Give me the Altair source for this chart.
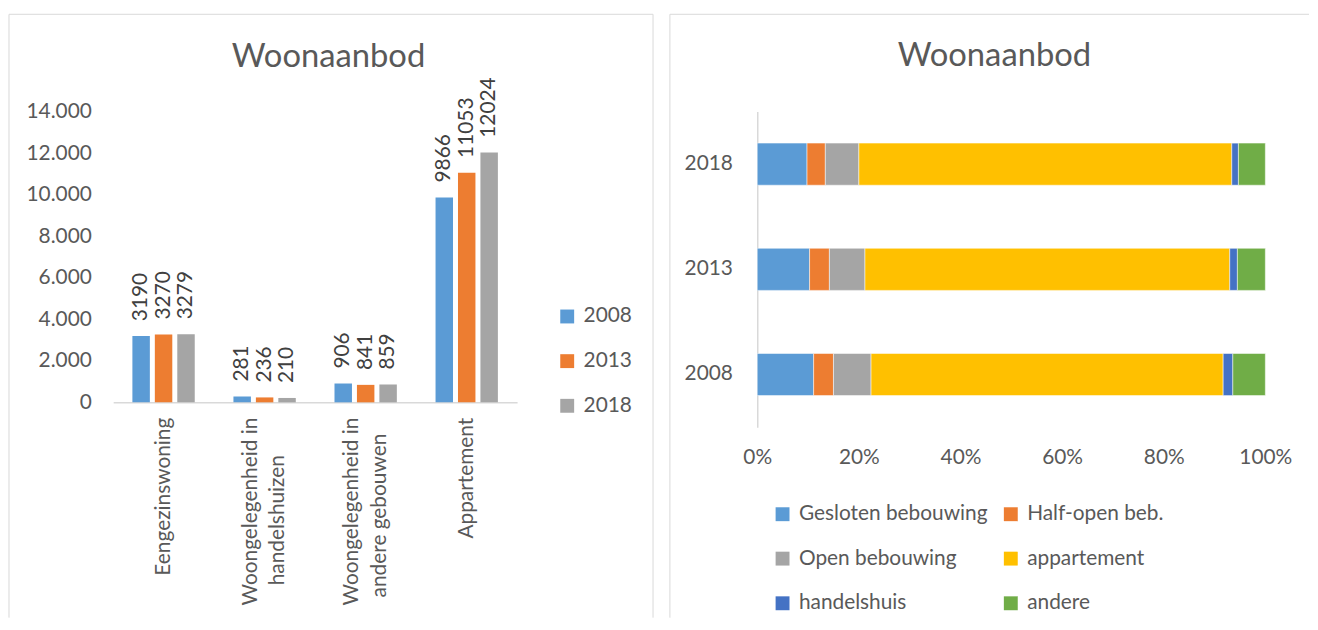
import altair as alt
import pandas as pd

# ---------------- data ----------------
categories = [
    "Eengezinswoning",
    "Woongelegenheid in handelshuizen",
    "Woongelegenheid in andere gebouwen",
    "Appartement",
]
years = ["2008", "2013", "2018"]
values_2008 = [3190, 281, 906, 9866]
values_2013 = [3270, 236, 841, 11053]
values_2018 = [3279, 210, 859, 12024]

types = ["Gesloten bebouwing", "Half-open beb.", "Open bebouwing",
         "appartement", "handelshuis", "andere"]
share_2008 = [11.1, 3.9, 7.4, 69.3, 1.9, 6.4]
share_2013 = [10.3, 3.9, 7.0, 71.8, 1.5, 5.5]
share_2018 = [9.8, 3.6, 6.6, 73.4, 1.3, 5.3]

year_colors = ["#5B9BD5", "#ED7D31", "#A5A5A5"]
type_colors = ["#5B9BD5", "#ED7D31", "#A5A5A5", "#FFC000", "#4472C4", "#70AD47"]

title_text = "Woonaanbod"

# ---------------- tables ----------------
rows_l = []
for yr, vals in zip(years, [values_2008, values_2013, values_2018]):
    for c, v in zip(categories, vals):
        rows_l.append({"category": c, "year": yr, "value": v})
df_left = pd.DataFrame(rows_l)

rows_r = []
for yr, vals in zip(years, [share_2008, share_2013, share_2018]):
    for i, (t, v) in enumerate(zip(types, vals)):
        rows_r.append({"year": yr, "type": t, "share": v, "idx": i})
df_right = pd.DataFrame(rows_r)

one = pd.DataFrame({"k": [0]})

FONT = "Lato"
LABEL = "#595959"
LINE = "#D9D9D9"
NB = "\u00a0"   # non-breaking space (padding)
ZW = "\u200b"   # zero-width space (keeps padding from being trimmed)
BLANK = ZW + NB + ZW


def vline(x, y1, y2):
    return alt.Chart(one).mark_rule(color=LINE, strokeWidth=1).encode(
        x=alt.value(x), y=alt.value(y1), y2=alt.value(y2))


def hline(x1, x2, y):
    return alt.Chart(one).mark_rule(color=LINE, strokeWidth=1).encode(
        x=alt.value(x1), x2=alt.value(x2), y=alt.value(y))


def title_mark(x, y):
    return alt.Chart(one).mark_text(
        text=title_text, font=FONT, fontSize=33, color=LABEL,
        align="center", baseline="middle").encode(x=alt.value(x), y=alt.value(y))


# multi-line category labels: wrapped lines centred like the original
label_expr = (
    "datum.label == 'Woongelegenheid in handelshuizen' ? "
    f"['Woongelegenheid in', '{BLANK}', 'handelshuizen{NB * 7}{ZW}'] : "
    "datum.label == 'Woongelegenheid in andere gebouwen' ? "
    f"['Woongelegenheid in', '{BLANK}', 'andere gebouwen{NB * 3}{ZW}'] : "
    f"['{BLANK}', datum.label]"
)

# ---------------- left chart ----------------
base_l = alt.Chart(df_left).encode(
    x=alt.X("category:N", sort=categories, title=None,
            scale=alt.Scale(paddingInner=0.383, paddingOuter=0.19),
            axis=alt.Axis(labelAngle=270, labelPadding=15, labelLineHeight=14,
                          labelOffset=-14, labelLimit=400, labelOverlap=False,
                          labelExpr=label_expr,
                          domainColor=LINE, domainWidth=1.5, ticks=False,
                          tickSize=0, grid=False)),
    xOffset=alt.XOffset("year:N", sort=years,
                        scale=alt.Scale(paddingInner=0.222, paddingOuter=0)),
    y=alt.Y("value:Q", title=None, scale=alt.Scale(domain=[0, 14000]),
            axis=alt.Axis(values=list(range(0, 14001, 2000)),
                          labelExpr="replace(format(datum.value, ','), ',', '.')",
                          domain=False, ticks=False, tickSize=0, grid=False,
                          labelPadding=22)),
)

bars_l = base_l.mark_bar().encode(
    color=alt.Color("year:N", sort=years,
                    scale=alt.Scale(domain=years, range=year_colors),
                    legend=alt.Legend(title=None, orient="none", legendX=447,
                                      legendY=196, symbolType="square",
                                      symbolSize=196, symbolStrokeWidth=0,
                                      symbolOpacity=1, labelOffset=6,
                                      rowPadding=23, padding=0)))

labels_l = base_l.mark_text(angle=270, align="left", baseline="middle", dx=15,
                            font=FONT, fontSize=21, color="#404040").encode(
    text=alt.Text("value:Q", format="d"))

left = alt.layer(
    bars_l, labels_l,
    title_mark(217, -55),
    vline(-105, -98, 510), vline(544, -98, 510), hline(-105, 544, -98),
).properties(width=407, height=293)

# ---------------- right chart ----------------
bars_r = alt.Chart(df_right).mark_bar(stroke="white", strokeWidth=0.5).encode(
    y=alt.Y("year:N", sort=["2018", "2013", "2008"], title=None,
            scale=alt.Scale(paddingInner=0.6, paddingOuter=0.3),
            axis=alt.Axis(domainColor=LINE, domainWidth=1.5, ticks=False,
                          tickSize=0, labelPadding=25, grid=False)),
    x=alt.X("share:Q", stack="normalize", title=None,
            scale=alt.Scale(domain=[0, 1]),
            axis=alt.Axis(format=".0%", values=[0, 0.2, 0.4, 0.6, 0.8, 1.0],
                          domain=False, ticks=False, tickSize=0, grid=False,
                          labelFlush=False, labelPadding=20)),
    color=alt.Color("type:N", sort=types,
                    scale=alt.Scale(domain=types, range=type_colors),
                    legend=alt.Legend(title=None, orient="none", legendX=15,
                                      legendY=395, columns=2,
                                      direction="horizontal",
                                      symbolType="square", symbolSize=196,
                                      symbolStrokeWidth=0, symbolOpacity=1,
                                      labelOffset=6, rowPadding=23,
                                      columnPadding=12, labelLimit=400,
                                      padding=0)),
    order=alt.Order("idx:Q"),
)

right = alt.layer(
    bars_r,
    title_mark(239, -56),
    vline(-88, -98, 510), hline(-88, 556, -98),
).properties(width=512, height=318)

chart = (
    alt.hconcat(left, right, spacing=15)
    .resolve_scale(x="independent", y="independent", color="independent")
    .resolve_legend(color="independent")
    .properties(padding={"left": 0, "top": 3, "right": 0, "bottom": 0},
                background="white")
    .configure_view(stroke=None)
    .configure_axis(labelFont=FONT, labelFontSize=21, labelColor=LABEL)
    .configure_legend(labelFont=FONT, labelFontSize=21, labelColor=LABEL)
)

chart.save("out.html", embed_options={"renderer": "svg", "actions": False})
